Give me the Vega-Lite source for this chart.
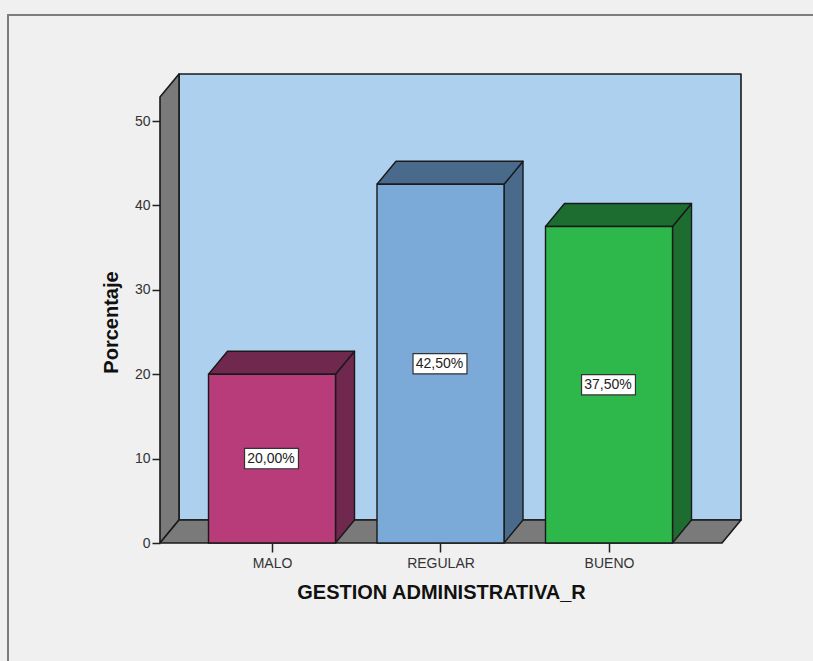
{
"$schema":"https://vega.github.io/schema/vega-lite/v6.json",
"width":581,"height":469,
"autosize":{"type":"none"},
"padding":{"left":160,"top":74,"right":72,"bottom":118},
"background":"#f0f0f0",
"view":{"stroke":null},
"config":{"font":"Liberation Sans"},
"datasets":{
"barras":[{"categoria":"MALO","porcentaje":20.0},{"categoria":"REGULAR","porcentaje":42.5},{"categoria":"BUENO","porcentaje":37.5}],
"paredes":[
{"cara":"marco","n":0,"vx":-0.5668,"vy":-13.98},{"cara":"marco","n":1,"vx":-0.5668,"vy":62.56},{"cara":"marco","n":2,"vx":4.2107,"vy":62.56}],
"planos":[
{"cara":"fondo","n":0,"vx":0.4481,"vy":2.725},{"cara":"fondo","n":1,"vx":3.7834,"vy":2.725},{"cara":"fondo","n":2,"vx":3.7834,"vy":55.57},{"cara":"fondo","n":3,"vx":0.4481,"vy":55.57},{"cara":"fondo","n":4,"vx":0.4481,"vy":2.725},
{"cara":"izquierda","n":0,"vx":0.3353,"vy":0},{"cara":"izquierda","n":1,"vx":0.4481,"vy":2.725},{"cara":"izquierda","n":2,"vx":0.4481,"vy":55.57},{"cara":"izquierda","n":3,"vx":0.3353,"vy":52.84},{"cara":"izquierda","n":4,"vx":0.3353,"vy":0},
{"cara":"suelo","n":0,"vx":0.3353,"vy":0},{"cara":"suelo","n":1,"vx":3.6706,"vy":0},{"cara":"suelo","n":2,"vx":3.7834,"vy":2.725},{"cara":"suelo","n":3,"vx":0.4481,"vy":2.725},{"cara":"suelo","n":4,"vx":0.3353,"vy":0}]
},
"encoding":{
"x":{"field":"vx","type":"quantitative","scale":{"domain":[0.3353,3.7834],"nice":false,"zero":false},
"axis":{"values":[1,2,3],"labelExpr":"['MALO','REGULAR','BUENO'][datum.value-1]","grid":false,"domain":false,"tickColor":"#222","tickSize":9,"tickWidth":1.5,"labelFontSize":14,"labelColor":"#333","labelPadding":4,"labelFont":"Liberation Sans","title":"GESTION ADMINISTRATIVA_R","titleFontSize":20,"titleFontWeight":"bold","titleColor":"#111","titlePadding":12,"titleFont":"Liberation Sans","titleX":281}},
"y":{"field":"vy","type":"quantitative","scale":{"domain":[0,55.57],"nice":false,"zero":false},
"axis":{"values":[0,10,20,30,40,50],"grid":false,"domain":false,"tickColor":"#222","tickSize":8,"tickWidth":1.5,"labelFontSize":14,"labelColor":"#333","labelPadding":2,"labelFont":"Liberation Sans","title":"Porcentaje","titleFontSize":20,"titleFontWeight":"bold","titleColor":"#111","titlePadding":13,"titleFont":"Liberation Sans","titleY":248}}
},
"layer":[
{"data":{"name":"paredes"},"mark":{"type":"line","stroke":"#7d7d7d","strokeWidth":2,"clip":false},"encoding":{"order":{"field":"n","type":"ordinal"}}},
{"data":{"name":"planos"},"mark":{"type":"line","stroke":"#1a1a1a","strokeWidth":1.6,"strokeJoin":"round"},
 "encoding":{"order":{"field":"n","type":"ordinal"},"detail":{"field":"cara"},"fill":{"field":"cara","type":"nominal","legend":null,"scale":{"domain":["fondo","izquierda","suelo"],"range":["#aed0ef","#7a7a7a","#7a7a7a"]}}}},
{"data":{"name":"barras"},
 "transform":[
  {"calculate":"indexof(['MALO','REGULAR','BUENO'],datum.categoria)+1","as":"pos"},
  {"calculate":"[datum.pos+0.3769,datum.pos+0.4897,datum.pos+0.4897,datum.pos+0.3769,datum.pos+0.3769]","as":"vx"},
  {"calculate":"[0,2.725,datum.porcentaje+2.725,datum.porcentaje,0]","as":"vy"},
  {"calculate":"[0,1,2,3,4]","as":"n"},
  {"flatten":["vx","vy","n"]}],
 "mark":{"type":"line","stroke":"#1a1a1a","strokeWidth":1.4,"strokeJoin":"round"},
 "encoding":{"order":{"field":"n","type":"ordinal"},"detail":{"field":"categoria"},"fill":{"field":"categoria","type":"nominal","legend":null,"scale":{"domain":["MALO","REGULAR","BUENO"],"range":["#70284f","#4a6a8c","#1e6d30"]}}}},
{"data":{"name":"barras"},
 "transform":[
  {"calculate":"indexof(['MALO','REGULAR','BUENO'],datum.categoria)+1","as":"pos"},
  {"calculate":"[datum.pos-0.3769,datum.pos+0.3769,datum.pos+0.4897,datum.pos-0.2641,datum.pos-0.3769]","as":"vx"},
  {"calculate":"[datum.porcentaje,datum.porcentaje,datum.porcentaje+2.725,datum.porcentaje+2.725,datum.porcentaje]","as":"vy"},
  {"calculate":"[0,1,2,3,4]","as":"n"},
  {"flatten":["vx","vy","n"]}],
 "mark":{"type":"line","stroke":"#1a1a1a","strokeWidth":1.4,"strokeJoin":"round"},
 "encoding":{"order":{"field":"n","type":"ordinal"},"detail":{"field":"categoria"},"fill":{"field":"categoria","type":"nominal","legend":null,"scale":{"domain":["MALO","REGULAR","BUENO"],"range":["#70284f","#4a6a8c","#1e6d30"]}}}},
{"data":{"name":"barras"},
 "transform":[
  {"calculate":"indexof(['MALO','REGULAR','BUENO'],datum.categoria)+1","as":"pos"},
  {"calculate":"datum.pos-0.3769","as":"vx"},{"calculate":"datum.pos+0.3769","as":"vx2"},
  {"calculate":"datum.porcentaje","as":"vy"},{"calculate":"0","as":"vy2"}],
 "mark":{"type":"rect","stroke":"#1a1a1a","strokeWidth":1.4},
 "encoding":{"x2":{"field":"vx2"},"y2":{"field":"vy2"},"fill":{"field":"categoria","type":"nominal","legend":null,"scale":{"domain":["MALO","REGULAR","BUENO"],"range":["#b83b7a","#7ba9d8","#2eb84b"]}}}},
{"data":{"name":"barras"},
 "transform":[
  {"calculate":"indexof(['MALO','REGULAR','BUENO'],datum.categoria)+1","as":"pos"},
  {"calculate":"datum.pos-0.163","as":"vx"},{"calculate":"datum.pos+0.157","as":"vx2"},
  {"calculate":"datum.porcentaje/2+1.2","as":"vy"},{"calculate":"datum.porcentaje/2-1.2","as":"vy2"}],
 "mark":{"type":"rect","fill":"#ffffff","stroke":"#333333","strokeWidth":1.2},
 "encoding":{"x2":{"field":"vx2"},"y2":{"field":"vy2"}}},
{"data":{"name":"barras"},
 "transform":[
  {"calculate":"indexof(['MALO','REGULAR','BUENO'],datum.categoria)+0.994","as":"vx"},
  {"calculate":"datum.porcentaje/2","as":"vy"},
  {"calculate":"replace(format(datum.porcentaje,'.2f'),'.',',')+'%'","as":"etiqueta"}],
 "mark":{"type":"text","fontSize":14,"font":"Liberation Sans","color":"#222","align":"center","baseline":"middle"},
 "encoding":{"text":{"field":"etiqueta"}}}
],
"resolve":{"scale":{"fill":"independent"}}
}
